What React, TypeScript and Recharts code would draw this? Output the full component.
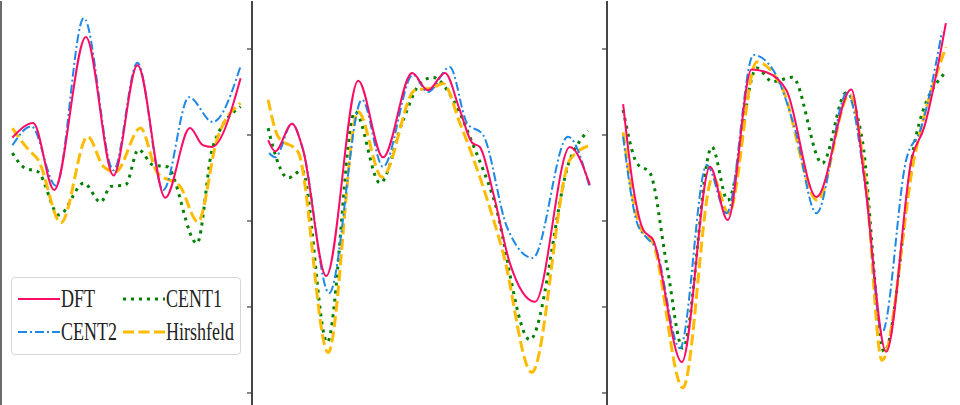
import React from 'react';
import { LineChart, Line, XAxis, YAxis } from 'recharts';

type Pt = [number, number];

// Series names & tick values
const seriesNames = ['DFT', 'CENT1', 'CENT2', 'Hirshfeld'];
const yTicks = [0, 1, 2, 3, 4];

// Panel 1 (x: 0..100, y in tick units)
const p1Dft: Pt[] = [[0, 2.97], [9.1, 3.14], [18.3, 2.36], [32.2, 4.14], [44.3, 2.53], [54.8, 3.81], [67.0, 2.27], [77.8, 3.08], [83.5, 2.88], [87.4, 2.86], [100, 3.66]];
const p1Cent2: Pt[] = [[0, 2.88], [8.3, 3.1], [19.1, 2.41], [31.3, 4.36], [44.3, 2.59], [54.8, 3.84], [66.1, 2.36], [77.4, 3.44], [87.8, 3.15], [100, 3.8]];
const p1Cent1: Pt[] = [[0, 2.79], [5.2, 2.62], [11.3, 2.57], [20.4, 2.07], [31.3, 2.44], [38.7, 2.22], [43.0, 2.4], [49.6, 2.42], [55.2, 2.83], [61.7, 2.65], [67.8, 2.63], [80.9, 1.74], [87.8, 2.86], [100, 3.33]];
const p1Hirsh: Pt[] = [[0, 3.08], [7.0, 2.83], [11.3, 2.71], [21.3, 1.98], [33.0, 2.98], [40.0, 2.63], [45.2, 2.57], [56.1, 3.08], [63.5, 2.56], [73.5, 2.4], [81.3, 1.99], [89.6, 2.94], [100, 3.37]];

// Panel 2
const p2Dft: Pt[] = [[0, 2.94], [2.2, 2.81], [7.4, 3.13], [10.8, 2.83], [18.0, 1.36], [27.9, 3.63], [35.6, 2.74], [44.6, 3.72], [49.5, 3.52], [54.8, 3.72], [59.4, 3.29], [63.2, 2.91], [65.6, 2.86], [69.7, 2.33], [74.9, 1.51], [82.7, 1.06], [93.5, 2.86], [99.7, 2.42]];
const p2Cent2: Pt[] = [[0.3, 2.79], [2.2, 2.74], [7.4, 3.13], [10.8, 2.83], [18.9, 1.16], [29.1, 3.41], [35.6, 2.63], [44.9, 3.7], [49.5, 3.5], [56.3, 3.79], [61.6, 3.14], [66.6, 3.0], [74.0, 1.93], [82.0, 1.57], [92.9, 2.98], [99.7, 2.38]];
const p2Cent1: Pt[] = [[0, 3.08], [1.5, 2.86], [6.2, 2.5], [10.5, 2.59], [18.3, 0.59], [26.9, 3.27], [34.7, 2.44], [41.8, 3.17], [47.1, 3.6], [51.1, 3.67], [57.3, 3.41], [64.1, 2.83], [69.7, 2.28], [81.1, 0.62], [93.5, 2.71], [99.1, 3.05]];
const p2Hirsh: Pt[] = [[0, 3.41], [3.1, 2.98], [9.3, 2.8], [18.6, 0.47], [27.9, 3.27], [35.3, 2.51], [45.5, 3.52], [51.1, 3.55], [54.2, 3.6], [59.4, 3.14], [65.6, 2.51], [72.8, 1.63], [81.7, 0.24], [93.5, 2.71], [99.7, 2.88]];

// Panel 3
const p3Dft: Pt[] = [[0, 3.36], [3.1, 2.4], [6.2, 1.9], [9.3, 1.78], [18.2, 0.36], [26.9, 2.63], [32.4, 2.01], [39.8, 3.76], [44.4, 3.73], [50.6, 3.52], [59.9, 2.28], [70.7, 3.53], [74.7, 2.51], [81.5, 0.48], [89.5, 2.74], [93.2, 3.08], [100, 4.3]];
const p3Cent2: Pt[] = [[0, 2.98], [4.3, 1.98], [7.4, 1.8], [9.9, 1.7], [17.6, 0.52], [25.9, 2.65], [32.1, 2.09], [40.4, 3.93], [46.9, 3.73], [53.1, 3.09], [59.9, 2.09], [69.4, 3.49], [75.3, 2.33], [80.2, 0.7], [87.7, 2.71], [92.3, 3.08], [98.8, 4.2]];
const p3Cent1: Pt[] = [[0, 3.29], [4.3, 2.67], [8.3, 2.56], [13.6, 1.47], [18.5, 0.52], [27.5, 2.86], [32.4, 2.24], [41.4, 3.78], [46.3, 3.62], [52.5, 3.67], [61.7, 2.67], [69.1, 3.49], [74.1, 2.94], [80.9, 0.48], [90.7, 2.98], [99.4, 3.71]];
const p3Hirsh: Pt[] = [[0, 3.03], [5.2, 1.93], [9.3, 1.74], [18.5, 0.06], [27.8, 2.51], [32.7, 2.09], [41.4, 3.85], [49.1, 3.56], [60.2, 2.24], [70.1, 3.47], [75.3, 2.4], [80.2, 0.38], [90.1, 2.71], [100, 4.02]];

const COLORS = { DFT: '#ff0a64', CENT1: '#008000', CENT2: '#1e88e5', Hirshfeld: '#ffbb00' };
const STYLES: Record<string, { color: string; width: number; dash?: string }> = {
  DFT: { color: COLORS.DFT, width: 2 },
  CENT1: { color: COLORS.CENT1, width: 3, dash: '3 5' },
  CENT2: { color: COLORS.CENT2, width: 2, dash: '9 3 2 3' },
  Hirshfeld: { color: COLORS.Hirshfeld, width: 3, dash: '11 4.5' },
};

const FRAME = '#3a3a3a';
const toObj = (pts: Pt[]) => pts.map(([x, y]) => ({ x, y }));

const LegendBox = () => {
  const item = (name: string) => {
    const s = STYLES[name];
    return (
      <div key={name} style={{ display: 'flex', alignItems: 'center', height: 33 }}>
        <svg width={42} height={10} style={{ display: 'block' }}>
          <line x1={0} y1={5} x2={42} y2={5} stroke={s.color} strokeWidth={s.width} strokeDasharray={s.dash} />
        </svg>
        <span
          style={{
            marginLeft: 1,
            fontFamily: '"Liberation Serif", serif',
            fontSize: 18,
            color: '#222',
            display: 'inline-block',
            transform: 'scaleY(1.4)',
            lineHeight: '18px',
          }}
        >
          {name}
        </span>
      </div>
    );
  };
  return (
    <div
      style={{
        position: 'absolute',
        left: 11,
        top: 277,
        width: 222,
        height: 72,
        border: '1px solid #d6d6d6',
        borderRadius: 4,
        background: 'rgba(255,255,255,0.85)',
        boxSizing: 'content-box',
        paddingTop: 4,
        paddingLeft: 6,
        display: 'grid',
        gridTemplateColumns: '105px 117px',
        gridTemplateRows: '33px 33px',
      }}
    >
      {seriesNames.map((n) => item(n))}
    </div>
  );
};

const PLOT_H = 409;
const Y_DOMAIN: [number, number] = [-0.198, 4.558];

type PanelProps = {
  left: number;
  plotW: number;
  series: { name: string; pts: Pt[] }[];
  showTicks?: boolean;
};

const Panel = ({ left, plotW, series, showTicks = true }: PanelProps) => {
  const yw = 8;
  return (
    <div style={{ position: 'absolute', left, top: 0 }}>
      <LineChart width={yw + plotW + 1} height={PLOT_H + 1} margin={{ top: 1, right: 0, bottom: 0, left: 0 }}>
        <XAxis
          type="number"
          dataKey="x"
          domain={[-5, 105]}
          allowDataOverflow
          orientation="top"
          height={0}
          tick={false}
          tickLine={false}
          axisLine={{ stroke: FRAME, strokeWidth: 1.5 }}
        />
        <YAxis
          type="number"
          domain={Y_DOMAIN}
          allowDataOverflow
          ticks={yTicks}
          width={yw}
          tickSize={5}
          tickFormatter={() => ''}
          tickLine={showTicks ? { stroke: FRAME, strokeWidth: 1.2 } : false}
          axisLine={{ stroke: FRAME, strokeWidth: 1.5 }}
        />
        <YAxis
          yAxisId="r"
          orientation="right"
          type="number"
          domain={[0, 1]}
          width={1}
          tick={false}
          tickLine={false}
          axisLine={{ stroke: FRAME, strokeWidth: 1.5 }}
        />
        {series.map((s) => {
          const st = STYLES[s.name];
          return (
            <Line
              key={s.name}
              data={toObj(s.pts)}
              dataKey="y"
              name={s.name}
              type="monotone"
              stroke={st.color}
              strokeWidth={st.width}
              strokeDasharray={st.dash}
              dot={false}
              activeDot={false}
              isAnimationActive={false}
            />
          );
        })}
      </LineChart>
    </div>
  );
};

export default function App() {
  return (
    <div style={{ position: 'absolute', left: 0, top: 0, width: 960, height: 405, overflow: 'hidden', background: '#fff' }}>
      <Panel
        left={-7}
        plotW={251}
        showTicks={false}
        series={[
          { name: 'CENT1', pts: p1Cent1 },
          { name: 'Hirshfeld', pts: p1Hirsh },
          { name: 'CENT2', pts: p1Cent2 },
          { name: 'DFT', pts: p1Dft },
        ]}
      />
      <Panel
        left={244}
        plotW={355}
        series={[
          { name: 'CENT1', pts: p2Cent1 },
          { name: 'Hirshfeld', pts: p2Hirsh },
          { name: 'CENT2', pts: p2Cent2 },
          { name: 'DFT', pts: p2Dft },
        ]}
      />
      <Panel
        left={599}
        plotW={355}
        series={[
          { name: 'CENT1', pts: p3Cent1 },
          { name: 'Hirshfeld', pts: p3Hirsh },
          { name: 'CENT2', pts: p3Cent2 },
          { name: 'DFT', pts: p3Dft },
        ]}
      />
      <LegendBox />
    </div>
  );
}
